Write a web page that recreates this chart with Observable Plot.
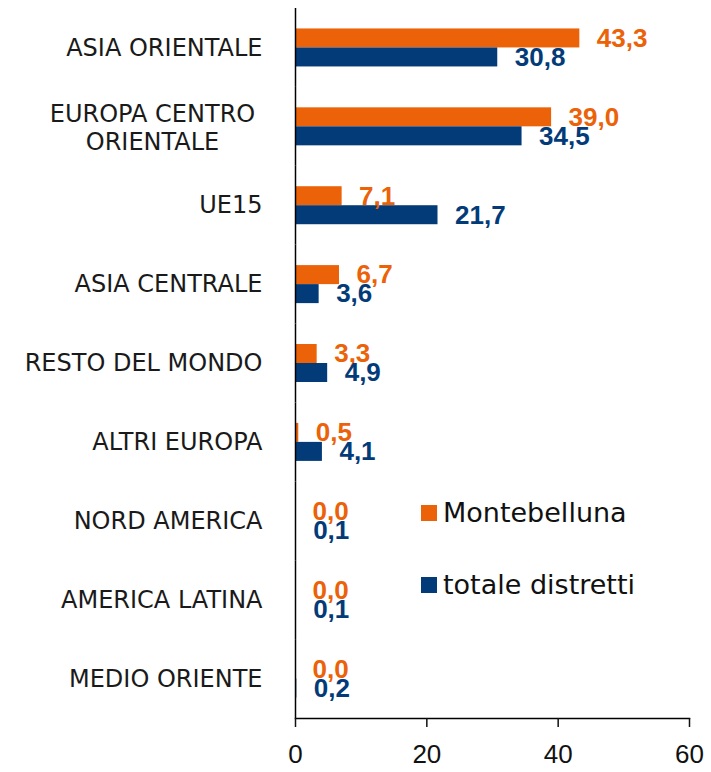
<!DOCTYPE html>
<html><head><meta charset="utf-8">
<script src="https://cdn.jsdelivr.net/npm/d3@7"></script>
<script src="https://cdn.jsdelivr.net/npm/@observablehq/plot@0.6"></script>
<style>
body{margin:0;background:#fff}
#wrap{position:relative;width:711px;height:772px}
.legend{position:absolute;left:421px;height:16px;display:flex;align-items:center;font-family:"DejaVu Sans";font-size:27px;line-height:16px;color:#111;white-space:nowrap}
.sw{width:16px;height:16px;margin-right:6px;flex:none}
</style></head><body><div id="wrap"></div>
<script>
const categories = ["ASIA ORIENTALE","EUROPA CENTRO ORIENTALE","UE15","ASIA CENTRALE","RESTO DEL MONDO","ALTRI EUROPA","NORD AMERICA","AMERICA LATINA","MEDIO ORIENTE"];
const series = ["Montebelluna","totale distretti"];
const montebelluna = [43.3,39.0,7.1,6.7,3.3,0.5,0.0,0.0,0.0];
const totaleDistretti = [30.8,34.5,21.7,3.6,4.9,4.1,0.1,0.1,0.2];
const xTicks = [0,20,40,60];
const colors = ["#EB6209","#033B79"];
const twoLine = {"EUROPA CENTRO ORIENTALE":"EUROPA CENTRO\nORIENTALE"};

const data = categories.flatMap((c,i)=>[
  {cat:c, s:series[0], v:montebelluna[i]},
  {cat:c, s:series[1], v:totaleDistretti[i]}
]);
const fmt = v => d3.format(".1f")(v).replace(".", ",");
const multi = categories.filter(c => twoLine[c]);
const single = categories.filter(c => !twoLine[c]);

const plot = Plot.plot({
  width:711, height:772, marginTop:8, marginBottom:54, marginLeft:295, marginRight:22,
  style:{fontFamily:"DejaVu Sans", background:"white", overflow:"visible"},
  x:{domain:[0,60], axis:null},
  y:{domain:series, axis:null, paddingInner:0, paddingOuter:1.076, round:false},
  fy:{domain:categories, padding:0, axis:null, round:false},
  color:{domain:series, range:colors},
  marks:[
    Plot.barX(data,{fy:"cat", y:"s", x:"v", fill:"s"}),
    Plot.text(data,{fy:"cat", y:"s", x:"v", text:d=>fmt(d.v), fill:"s", textAnchor:"start", dx:17,
      fontSize:26, fontWeight:"bold", fontFamily:"Liberation Sans"}),
    Plot.ruleX([0],{stroke:"black", strokeWidth:1.5}),
    Plot.axisFy({ticks:single, anchor:"left", tickSize:0, tickPadding:33, fontSize:24, color:"#1a1a1a", label:null}),
    Plot.axisFy({ticks:multi, anchor:"left", tickSize:0, tickPadding:143, textAnchor:"middle", lineHeight:1.17,
      tickFormat:d=>twoLine[d], fontSize:24, color:"#1a1a1a", label:null}),
    Plot.frame({anchor:"bottom", facetAnchor:"bottom", stroke:"black", strokeWidth:1.5}),
    Plot.axisX({ticks:xTicks, tickSize:9, tickPadding:17, facetAnchor:"bottom", fontSize:26,
      fontFamily:"Liberation Sans", color:"#111", label:null, strokeWidth:1.5})
  ]
});
const wrap = document.getElementById("wrap");
wrap.appendChild(plot);
const tops = [505, 577];
series.forEach((s,i)=>{
  const d = document.createElement("div");
  d.className = "legend";
  d.style.top = tops[i] + "px";
  d.innerHTML = `<span class="sw" style="background:${colors[i]}"></span><span>${s}</span>`;
  wrap.appendChild(d);
});
</script></body></html>
